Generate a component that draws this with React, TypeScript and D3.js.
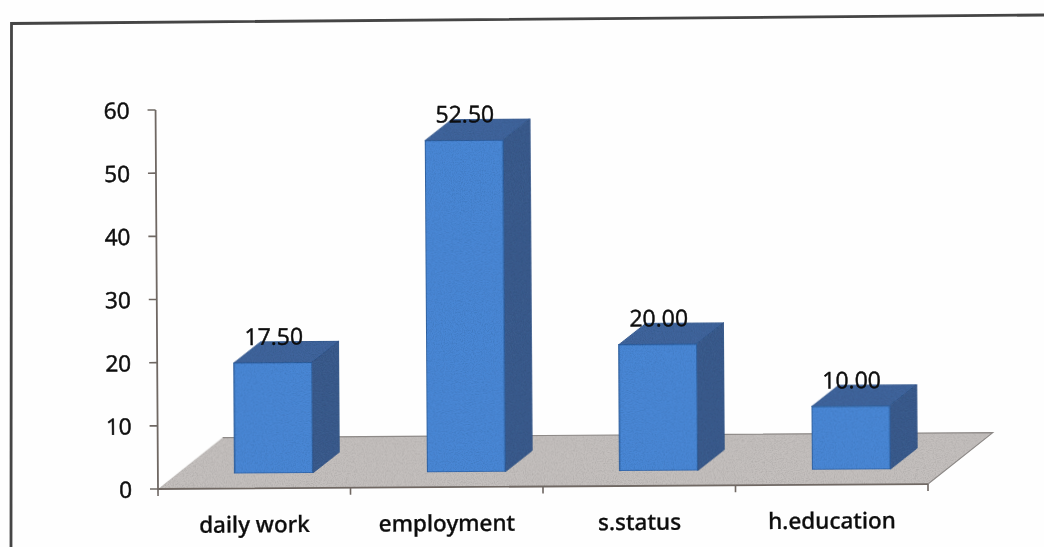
import React from "react";
import * as d3 from "d3";

const categories = ["daily work", "employment", "s.status", "h.education"];
const values = [17.5, 52.5, 20, 10];
const valueLabels = ["17.50", "52.50", "20.00", "10.00"];
const yTicks = [0, 10, 20, 30, 40, 50, 60];

const x0 = 158, x1 = 928, yBase = 489, yTop = 110;
const x = d3.scaleBand<string>().domain(categories).range([x0, x1]);
const y = d3.scaleLinear().domain([0, 60]).range([yBase, yTop]);
const barW = 78;
const depthX = 27, depthY = 21;
const shiftX = 19.5, shiftY = 15;
const floorX = 65, floorY = 51;
const tickEdges = d3.range(categories.length + 1).map((i) => x0 + i * x.bandwidth());
const poly = (p: number[][]) => p.map((q) => q.join(",")).join(" ");
const font = "'Open Sans', sans-serif";

export default function App() {
  return (
    <svg width={1044} height={547} style={{ position: "absolute", left: 0, top: 0, background: "#fefefe" }}>
      <defs>
        <filter id="soft" x="-5%" y="-5%" width="110%" height="110%">
          <feGaussianBlur stdDeviation="0.5" />
        </filter>
        <filter id="grain" x="0" y="0" width="100%" height="100%">
          <feTurbulence type="fractalNoise" baseFrequency="0.9" numOctaves="2" seed="4" result="n" />
          <feColorMatrix in="n" type="matrix" values="0 0 0 0 0  0 0 0 0 0  0 0 0 0 0  0.5 0 0 0 -0.2" result="a" />
          <feComposite in="a" in2="SourceAlpha" operator="in" result="g" />
          <feMerge>
            <feMergeNode in="SourceGraphic" />
            <feMergeNode in="g" />
          </feMerge>
        </filter>
      </defs>
      <g filter="url(#soft)">
        <path d="M11,547 L11.5,23.5 L1044,15" fill="none" stroke="#444" strokeWidth={2.8} />
        <g transform={`rotate(-0.37 ${x0} ${yBase})`}>
          <polygon
            points={poly([
              [x0, yBase],
              [x1, yBase],
              [x1 + floorX, yBase - floorY],
              [x0 + floorX, yBase - floorY],
            ])}
            fill="#c4c0be"
            filter="url(#grain)"
          />
          <path
            d={`M${x0 + floorX},${yBase - floorY} H${x1 + floorX} L${x1},${yBase}`}
            fill="none"
            stroke="#8e8a88"
            strokeWidth={1.2}
          />
          <path d={`M${x0},${yTop} V${yBase} H${x1}`} fill="none" stroke="#6f6864" strokeWidth={1.8} />
          {yTicks.map((t) => (
            <g key={t}>
              <line x1={x0 - 8} x2={x0} y1={y(t)} y2={y(t)} stroke="#6f6864" strokeWidth={1.6} />
              <text x={x0 - 26} y={y(t) + 8.5} textAnchor="end" fontFamily={font} fontSize={22.5} fill="#0a0a0a" stroke="#0a0a0a" strokeWidth={0.5}>
                {t}
              </text>
            </g>
          ))}
          {tickEdges.map((t) => (
            <line key={t} x1={t} x2={t} y1={yBase} y2={yBase + 7} stroke="#6f6864" strokeWidth={1.6} />
          ))}
          {categories.map((c, i) => {
            const l = x(c)! + x.bandwidth() / 2 + shiftX - barW / 2;
            const r = l + barW;
            const b = yBase - shiftY;
            const t = y(values[i]) - shiftY;
            return (
              <g key={c}>
                <polygon
                  points={poly([[l, t], [r, t], [r + depthX, t - depthY], [l + depthX, t - depthY]])}
                  fill="#41659c"
                  stroke="#375b92"
                  filter="url(#grain)"
                />
                <polygon
                  points={poly([[r, t], [r + depthX, t - depthY], [r + depthX, b - depthY], [r, b]])}
                  fill="#3a5b8d"
                  stroke="#305287"
                  filter="url(#grain)"
                />
                <rect x={l} y={t} width={barW} height={b - t} fill="#4a87d6" stroke="#2f5f9f" strokeWidth={1.3} filter="url(#grain)" />
                <text
                  x={l + barW / 2 + 1}
                  y={t - depthY + 3}
                  textAnchor="middle"
                  fontFamily={font}
                  fontSize={23}
                  fill="#0a0a0a"
                  stroke="#0a0a0a"
                  strokeWidth={0.4}
                >
                  {valueLabels[i]}
                </text>
                <text
                  x={x(c)! + x.bandwidth() / 2}
                  y={yBase + 44}
                  textAnchor="middle"
                  fontFamily="'Noto Sans', sans-serif"
                  fontWeight={500}
                  fontSize={22.5}
                  fill="#0e0e0e"
                  stroke="#0e0e0e"
                  strokeWidth={0.3}
                >
                  {c}
                </text>
              </g>
            );
          })}
        </g>
      </g>
    </svg>
  );
}
